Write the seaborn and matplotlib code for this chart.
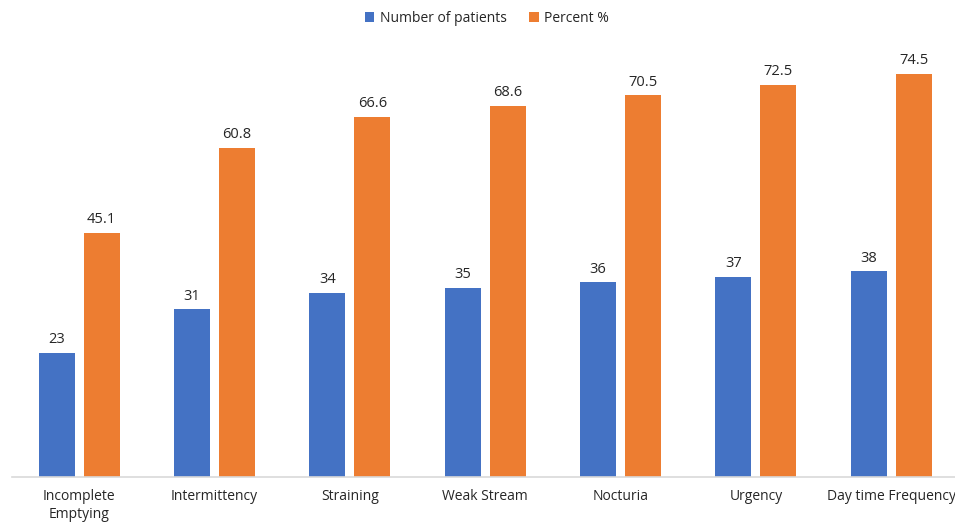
import matplotlib
matplotlib.use("Agg")
import matplotlib.pyplot as plt
import seaborn as sns
import pandas as pd

categories = ["Incomplete\nEmptying", "Intermittency", "Straining", "Weak Stream",
              "Nocturia", "Urgency", "Day time Frequency"]
patients = [23, 31, 34, 35, 36, 37, 38]
percent = [45.1, 60.8, 66.6, 68.6, 70.5, 72.5, 74.5]
series_names = ["Number of patients", "Percent %"]
colors = ["#4472C4", "#ED7D31"]

df = pd.DataFrame({
    "category": categories * 2,
    "value": patients + percent,
    "series": [series_names[0]] * len(categories) + [series_names[1]] * len(categories),
})

sns.set_style("white")
plt.rcParams["font.family"] = ["Open Sans", "DejaVu Sans"]

fig = plt.figure(figsize=(9.55, 5.23), dpi=100)
ax = fig.add_axes([12 / 955, 46 / 523, 1 - 12 / 955, (477 - 44) / 523])

sns.barplot(data=df, x="category", y="value", hue="series", palette=colors,
            width=0.665, gap=0.2, ax=ax, legend=True, saturation=1, linewidth=0)

for cont in ax.containers:
    ax.bar_label(cont, labels=[f"{v:g}" for v in cont.datavalues], padding=4,
                 fontsize=10.5, color="#262626")

ax.set_ylim(0, 80)
ax.set_xlim(-0.495, 6.47)
ax.set_xlabel("")
ax.set_ylabel("")
ax.set_yticks([])
ax.tick_params(axis="x", length=0, pad=9, labelsize=10, labelcolor="#262626")
for s in ["top", "right", "left"]:
    ax.spines[s].set_visible(False)
ax.spines["bottom"].set_color("#d9d9d9")
ax.spines["bottom"].set_linewidth(1.2)

handles, labels = ax.get_legend_handles_labels()
ax.legend_.remove()
fig.legend(handles, labels, loc="center", bbox_to_anchor=(487 / 955, 1 - 18 / 523),
           ncol=2, frameon=False, fontsize=10, handlelength=0.7, handleheight=0.7,
           handletextpad=0.4, columnspacing=1.6, labelcolor="#262626")

fig.savefig("out.png", dpi=100, facecolor="white")
